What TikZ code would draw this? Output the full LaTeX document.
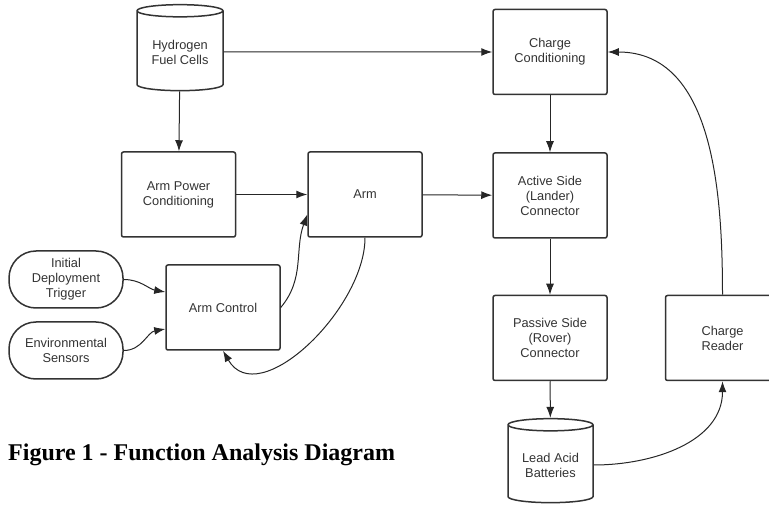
\documentclass[tikz,border=0pt]{standalone}
\usepackage{fontspec}
\setmainfont{Liberation Sans}
\newfontfamily\capfont{Liberation Serif}
\usetikzlibrary{positioning,shapes.geometric,arrows.meta}
\newcommand{\boxfont}{\fontsize{12.8}{15}\selectfont}
\tikzset{
block/.style={draw=black!80,line width=1.5pt,rounded corners=2pt,minimum width=114pt,minimum height=85pt,inner sep=2pt,align=center,font=\boxfont,text=black!80},
store/.style={cylinder,shape border rotate=90,aspect=0.2,draw=black!80,line width=1.5pt,minimum width=86pt,minimum height=86pt,inner sep=2pt,align=center,font=\boxfont,text=black!80},
termbox/.style={draw=black!80,line width=1.5pt,rounded corners=27pt,minimum width=114pt,minimum height=57pt,inner sep=2pt,align=center,font=\boxfont,text=black!80},
flow/.style={-{Latex[length=11pt,width=8pt]},line width=1pt,draw=black!85},
figcap/.style={font=\capfont\bfseries\fontsize{24}{28}\selectfont,inner sep=0pt,anchor=base west}
}

\begin{document}
\begin{tikzpicture}[x=1pt,y=1pt]
\useasboundingbox (0,0) rectangle (769,504);
\clip (0,0) rectangle (769,504);
% power path
\node[store] (hfc) at (180,452) {Hydrogen\\Fuel Cells};
\node[block] (arm) at (365,309.5) {Arm};
\node[block,left=71pt of arm] (apc) {Arm Power\\Conditioning};
\node[block] (cc) at (550,452) {Charge\\Conditioning};
\node[block,below=57pt of cc] (act) {Active Side\\(Lander)\\Connector};
\node[block,below=56pt of act] (pas) {Passive Side\\(Rover)\\Connector};
\node[block,right=57pt of pas] (cr) {Charge\\Reader};
\node[store,minimum width=85pt,minimum height=84pt] (lab) at (550.5,39) {Lead Acid\\Batteries};
% control path
\node[block] (ac) at (223,196.5) {Arm Control};
\node[termbox] (idt) at (66,224.5) {Initial\\Deployment\\Trigger};
\node[termbox] (env) at (66,153.5) {Environmental\\Sensors};
\node[figcap] (cap) at (8,44) {Figure 1 - Function Analysis Diagram};

\draw[flow] (hfc) -- (cc);
\draw[flow] (hfc) -- (apc);
\draw[flow] (apc) -- (arm);
\draw[flow] (arm) -- (act);
\draw[flow] (cc) -- (act);
\draw[flow] (act) -- (pas);
\draw[flow] (pas) -- (lab);
\draw[flow] (lab.east) to[out=0,in=270] (cr.south);
\draw[flow] (cr.north) to[out=90,in=0] (cc.east);
\draw[flow] (idt.east) to[out=0,in=170] ([yshift=15.5pt]ac.west);
\draw[flow] (env.east) to[out=0,in=190] ([yshift=-21.5pt]ac.west);
\draw[flow] (ac.east) to[out=50,in=250] ([yshift=-20pt]arm.west);
\draw[flow] (arm.south) to[out=270,in=300] (ac.south);
\end{tikzpicture}
\end{document}
